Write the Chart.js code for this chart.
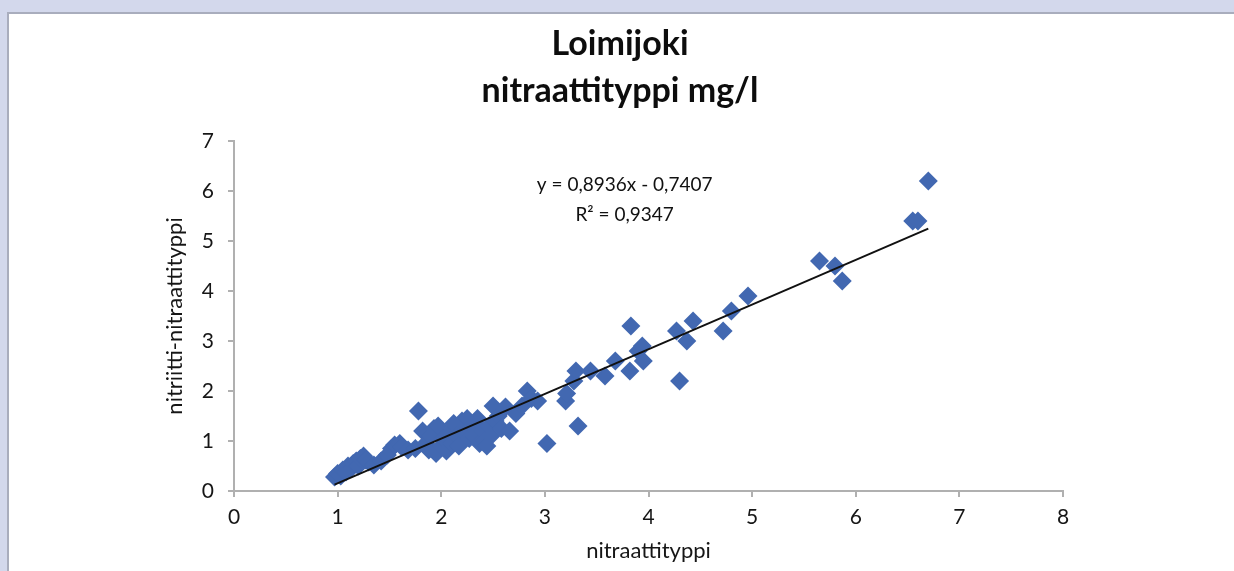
<!DOCTYPE html>
<html>
<head>
<meta charset="utf-8">
<title>Loimijoki nitraattityppi</title>
<script src="https://cdn.jsdelivr.net/npm/chart.js@4.4.1/dist/chart.umd.min.js"></script>
<style>
    html, body {
        margin: 0;
        padding: 0;
        width: 1234px;
        height: 571px;
        overflow: hidden;
        background: #d3d8ec;
    }
    #panel {
        position: absolute;
        left: 7px;
        top: 12px;
        width: 1260px;
        height: 600px;
        background: #ffffff;
        border-left: 2px solid #a9adbd;
        border-top: 2px solid #a9adbd;
    }
    #chart {
        position: absolute;
        left: 0;
        top: 0;
    }
</style>
</head>
<body>
<div id="panel"></div>
<canvas id="chart" width="1234" height="571"></canvas>
<script>
// nitraattityppi (x) vs nitriitti-nitraattityppi (y), mg/l
const nitraatti = [
    0.97, 1.00, 1.03, 1.05, 1.08, 1.10, 1.13, 1.15, 1.18, 1.20,
    1.22, 1.25, 1.27, 1.30, 1.35, 1.42, 1.48, 1.52, 1.55, 1.60,
    1.62, 1.68, 1.75, 1.78, 1.82, 1.85, 1.88, 1.90, 1.93, 1.95,
    1.97, 2.00, 2.02, 2.05, 2.07, 2.10, 2.12, 2.15, 2.17, 2.20,
    2.22, 2.25, 2.27, 2.30, 2.32, 2.35, 2.37, 2.40, 2.42, 2.44,
    2.46, 2.48, 2.50, 2.52, 2.55, 2.58, 2.62, 2.66, 2.72, 2.78,
    2.83, 2.87, 2.93, 3.02, 3.20, 3.21, 3.28, 3.30, 3.32, 3.44,
    3.58, 3.68, 3.82, 3.83, 3.90, 3.94, 3.95, 4.27, 4.30, 4.37,
    4.43, 4.72, 4.80, 4.96, 5.65, 5.80, 5.87, 6.55, 6.60, 6.70
];
const nitriittiNitraatti = [
    0.28, 0.35, 0.30, 0.42, 0.38, 0.50, 0.45, 0.55, 0.60, 0.50,
    0.65, 0.70, 0.62, 0.58, 0.52, 0.60, 0.72, 0.85, 0.92, 0.95,
    0.88, 0.82, 0.85, 1.60, 1.20, 0.95, 0.82, 1.10, 1.25, 0.75,
    1.30, 0.90, 1.05, 0.80, 1.15, 0.95, 1.35, 1.10, 0.90, 1.40,
    1.25, 1.45, 1.05, 1.30, 1.10, 1.45, 0.95, 1.20, 1.00, 0.90,
    1.30, 1.10, 1.70, 1.40, 1.50, 1.25, 1.68, 1.20, 1.55, 1.70,
    2.00, 1.85, 1.80, 0.95, 1.80, 1.95, 2.20, 2.40, 1.30, 2.40,
    2.30, 2.60, 2.40, 3.30, 2.80, 2.90, 2.60, 3.20, 2.20, 3.00,
    3.40, 3.20, 3.60, 3.90, 4.60, 4.50, 4.20, 5.40, 5.40, 6.20
];

const xTicks = [0, 1, 2, 3, 4, 5, 6, 7, 8];
const yTicks = [0, 1, 2, 3, 4, 5, 6, 7];

// linear trendline as reported by the spreadsheet
const slope = 0.8936;
const intercept = -0.7407;
const rSquared = 0.9347;

const fmt = function (v) {
    return v.toFixed(4).replace('.', ',');
};

let points = nitraatti.map(function (x, i) {
    return {x: x, y: nitriittiNitraatti[i]};
});

let xMin = Math.min.apply(null, nitraatti);
let xMax = Math.max.apply(null, nitraatti);
let trend = [
    {x: xMin, y: slope * xMin + intercept},
    {x: xMax, y: slope * xMax + intercept}
];

const equationLabel = {
    id: 'equationLabel',
    afterDatasetsDraw: function (chart) {
        const ctx = chart.ctx;
        const xs = chart.scales.x;
        const ys = chart.scales.y;
        ctx.save();
        ctx.fillStyle = '#111111';
        ctx.font = '19px Lato';
        ctx.textAlign = 'center';
        ctx.textBaseline = 'middle';
        let cx = xs.getPixelForValue(3.77);
        ctx.fillText('y = ' + fmt(slope) + 'x - ' + fmt(Math.abs(intercept)), cx, ys.getPixelForValue(6.12));
        ctx.fillText('R\u00b2 = ' + fmt(rSquared), cx, ys.getPixelForValue(5.52));
        ctx.restore();
    }
};

const axisColor = '#b0b0b0';
const textColor = '#161616';
const tickFont = {family: 'Lato', size: 21};
const axisTitleFont = {family: 'Lato', size: 22};

new Chart(document.getElementById('chart').getContext('2d'), {
    type: 'scatter',
    data: {
        datasets: [
            {
                type: 'line',
                label: 'Lineaarinen',
                data: trend,
                borderColor: '#111111',
                borderWidth: 2,
                pointRadius: 0,
                fill: false
            },
            {
                label: 'nitraattityppi',
                data: points,
                backgroundColor: '#4268b1',
                borderColor: '#4268b1',
                borderWidth: 0,
                pointStyle: 'rectRot',
                pointRadius: 9.5,
                pointHoverRadius: 9.5
            }
        ]
    },
    options: {
        responsive: false,
        animation: false,
        layout: {
            padding: {left: 6, right: 0, top: 0, bottom: 0}
        },
        plugins: {
            legend: {display: false},
            tooltip: {enabled: false},
            title: {
                display: true,
                text: ['Loimijoki', 'nitraattityppi mg/l'],
                color: '#0d0d0d',
                font: {family: 'Lato', size: 34, weight: 'bold', lineHeight: 1.382},
                padding: {top: 21, bottom: 26}
            }
        },
        scales: {
            x: {
                type: 'linear',
                min: 0,
                max: 8,
                afterBuildTicks: function (scale) {
                    scale.ticks = xTicks.map(function (v) { return {value: v}; });
                },
                afterFit: function (scale) {
                    scale.height = 80;
                },
                grid: {drawOnChartArea: false, tickLength: 6, color: axisColor, lineWidth: 2},
                border: {color: axisColor, width: 2},
                ticks: {color: textColor, font: tickFont, padding: 8, maxRotation: 0},
                title: {
                    display: true,
                    text: 'nitraattityppi',
                    color: textColor,
                    font: axisTitleFont,
                    padding: {top: 0, bottom: 7}
                }
            },
            y: {
                type: 'linear',
                min: 0,
                max: 7,
                afterBuildTicks: function (scale) {
                    scale.ticks = yTicks.map(function (v) { return {value: v}; });
                },
                afterFit: function (scale) {
                    scale.width = 228;
                },
                grid: {drawOnChartArea: false, tickLength: 6, color: axisColor, lineWidth: 2},
                border: {color: axisColor, width: 2},
                ticks: {color: textColor, font: tickFont, padding: 14},
                title: {
                    display: true,
                    text: 'nitriitti-nitraattityppi',
                    color: textColor,
                    font: axisTitleFont,
                    padding: {top: 156, bottom: 0}
                }
            },
            // empty spacer on the right so the plot ends at x = 8 where it should
            spacer: {
                type: 'linear',
                position: 'right',
                afterFit: function (scale) {
                    scale.width = 171;
                },
                grid: {display: false},
                border: {display: false},
                ticks: {display: false}
            }
        }
    },
    plugins: [equationLabel]
});
</script>
</body>
</html>
